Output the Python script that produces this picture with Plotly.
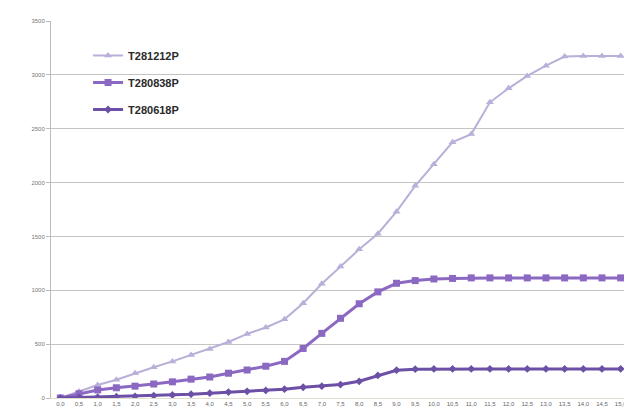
import plotly.graph_objects as go

categories = ["0,0", "0,5", "1,0", "1,5", "2,0", "2,5", "3,0", "3,5", "4,0", "4,5",
              "5,0", "5,5", "6,0", "6,5", "7,0", "7,5", "8,0", "8,5", "9,0", "9,5",
              "10,0", "10,5", "11,0", "11,5", "12,0", "12,5", "13,0", "13,5", "14,0", "14,5", "15,0"]

t281212p = [0, 60, 120, 170, 230, 285, 340, 400, 455, 520, 595, 655, 730, 880, 1060, 1220,
            1380, 1525, 1730, 1970, 2170, 2375, 2450, 2745, 2875, 2990, 3085, 3170, 3175, 3175, 3175]
t280838p = [0, 40, 75, 95, 110, 130, 150, 175, 195, 230, 260, 295, 340, 460, 600, 740,
            875, 985, 1065, 1090, 1105, 1110, 1115, 1115, 1115, 1115, 1115, 1115, 1115, 1115, 1115]
t280618p = [0, 5, 8, 12, 16, 22, 28, 35, 45, 55, 62, 70, 82, 100, 110, 125,
            155, 210, 258, 268, 270, 270, 270, 270, 270, 270, 270, 270, 270, 270, 270]

y_ticks = [0, 500, 1000, 1500, 2000, 2500, 3000, 3500]

series = [
    ("T281212P", t281212p, "#B9AFD8", "triangle-up", 2, 7),
    ("T280838P", t280838p, "#8B68C2", "square", 3, 7),
    ("T280618P", t280618p, "#6C50A6", "diamond", 3, 6),
]

fig = go.Figure()
for i, (name, vals, color, sym, lw, ms) in enumerate(series):
    fig.add_trace(go.Scatter(
        x=categories, y=vals, name=f"<b>{name}</b>", mode="lines+markers",
        legendgroup=f"g{i}",
        line=dict(color=color, width=lw),
        marker=dict(symbol=sym, size=ms, color=color),
    ))

fig.add_shape(type="rect", xref="paper", yref="paper",
              x0=0.038, x1=0.28, y0=(392 - 125) / 380, y1=(392 - 25) / 380,
              fillcolor="white", line=dict(width=0), layer="between")

fig.update_layout(
    width=632, height=409,
    margin=dict(l=43, r=10, t=12, b=17),
    paper_bgcolor="white", plot_bgcolor="white",
    font=dict(family="Liberation Sans, Arial, sans-serif"),
    showlegend=True,
    legend=dict(x=0.064, y=0.947, xanchor="left", yanchor="top",
                bgcolor="rgba(255,255,255,0)", tracegroupgap=8,
                font=dict(size=11, color="#2a2a2a"), itemwidth=30),
    xaxis=dict(type="category", showgrid=False, showline=True, linecolor="#E2DED0",
               linewidth=1, ticks="", tickfont=dict(size=6, color="#666666"),
               tickangle=0, range=[-0.5, 30.5]),
    yaxis=dict(range=[0, 3500], tickvals=y_ticks, showgrid=True, gridcolor="#C4C4C4",
               gridwidth=1, showline=True, linecolor="#BBBBBB", ticks="outside",
               ticklen=4, tickcolor="#BBBBBB", tickfont=dict(size=6, color="#777777"),
               zeroline=False),
)

fig.write_html("out.html")
